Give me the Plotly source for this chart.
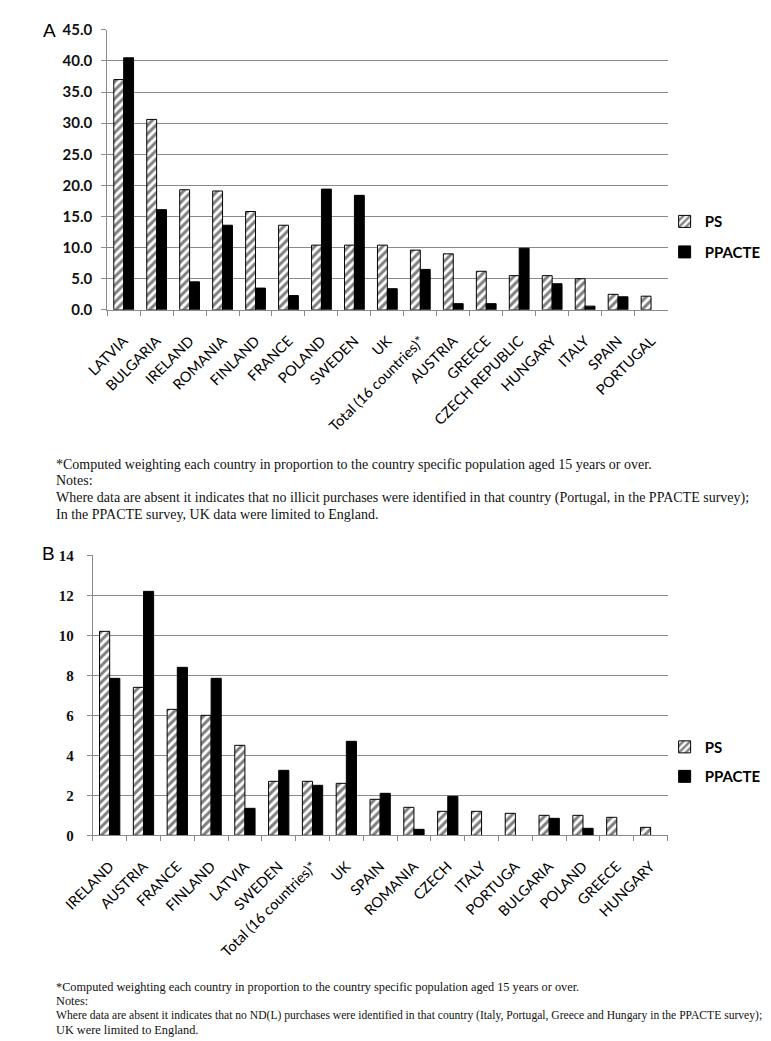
import plotly.graph_objects as go

W, H = 771, 1041

# ---------------- Panel A data ----------------
cats_a = ["LATVIA", "BULGARIA", "IRELAND", "ROMANIA", "FINLAND", "FRANCE", "POLAND",
          "SWEDEN", "UK", "Total (16 countries)*", "AUSTRIA", "GREECE", "CZECH REPUBLIC",
          "HUNGARY", "ITALY", "SPAIN", "PORTUGAL"]
ps_a = [37.0, 30.6, 19.3, 19.1, 15.8, 13.6, 10.4, 10.4, 10.4, 9.6, 9.0, 6.2, 5.5, 5.5, 5.0, 2.5, 2.2]
ppacte_a = [40.5, 16.1, 4.5, 13.6, 3.5, 2.3, 19.4, 18.4, 3.4, 6.5, 1.0, 1.0, 9.9, 4.2, 0.6, 2.1, None]
yticks_a = [0, 5, 10, 15, 20, 25, 30, 35, 40, 45]

# ---------------- Panel B data ----------------
cats_b = ["IRELAND", "AUSTRIA", "FRANCE", "FINLAND", "LATVIA", "SWEDEN", "Total (16 countries)*",
          "UK", "SPAIN", "ROMANIA", "CZECH", "ITALY", "PORTUGA", "BULGARIA", "POLAND", "GREECE", "HUNGARY"]
ps_b = [10.2, 7.4, 6.3, 6.0, 4.5, 2.7, 2.7, 2.6, 1.8, 1.4, 1.2, 1.2, 1.1, 1.0, 1.0, 0.9, 0.4]
ppacte_b = [7.85, 12.2, 8.4, 7.85, 1.35, 3.25, 2.5, 4.7, 2.1, 0.3, 1.95, None, None, 0.85, 0.35, None, None]
yticks_b = [0, 2, 4, 6, 8, 10, 12, 14]

notes_a = [
    "*Computed weighting each country in proportion to the country specific population aged 15 years or over.",
    "Notes:",
    "Where data are absent it indicates that no illicit purchases were identified in that country (Portugal, in the PPACTE survey);",
    "In the PPACTE survey, UK data were limited to England.",
]
notes_b = [
    "*Computed weighting each country in proportion to the country specific population aged 15 years or over.",
    "Notes:",
    "Where data are absent it indicates that no ND(L) purchases were identified in that country (Italy, Portugal, Greece and Hungary in the PPACTE survey);",
    "UK were limited to England.",
]

GRID = "#8a8a8a"
hatch = dict(shape="/", fgcolor="black", bgcolor="white", size=6, solidity=0.5)


def px_x(p):
    return p / W


def px_y(p):
    return 1 - p / H


fig = go.Figure()
fig.add_trace(go.Bar(x=cats_a, y=ps_a, name="PS", xaxis="x", yaxis="y", legend="legend",
                     marker=dict(color="white", pattern=hatch, line=dict(color="black", width=1)),
                     legendgroup="a1"))
fig.add_trace(go.Bar(x=cats_a, y=ppacte_a, name="PPACTE", xaxis="x", yaxis="y", legend="legend",
                     marker=dict(color="black", line=dict(color="black", width=1)), legendgroup="a2"))
fig.add_trace(go.Bar(x=cats_b, y=ps_b, name="PS", xaxis="x2", yaxis="y2", legend="legend2",
                     marker=dict(color="white", pattern=hatch, line=dict(color="black", width=1)),
                     legendgroup="b1"))
fig.add_trace(go.Bar(x=cats_b, y=ppacte_b, name="PPACTE", xaxis="x2", yaxis="y2", legend="legend2",
                     marker=dict(color="black", line=dict(color="black", width=1)), legendgroup="b2"))

xcommon = dict(showline=True, linecolor=GRID, linewidth=1, ticks="outside", tickson="boundaries",
               ticklen=5, tickcolor=GRID, tickangle=-45, showgrid=False,
               tickfont=dict(family="Lato", size=14.5, color="black"), ticklabelstandoff=16)
ycommon = dict(showline=True, linecolor=GRID, linewidth=1, ticks="outside", ticklen=5, tickcolor=GRID,
               showgrid=True, gridcolor=GRID, gridwidth=1, zeroline=False)

fig.update_layout(
    width=W, height=H,
    margin=dict(l=0, r=0, t=0, b=0),
    paper_bgcolor="white", plot_bgcolor="white",
    barmode="group", bargap=0.4, bargroupgap=0,
    xaxis=dict(domain=[px_x(72), px_x(655)], anchor="y", **xcommon),
    yaxis=dict(domain=[px_y(297), px_y(12)], anchor="x", range=[0, 45], tickvals=yticks_a,
               ticktext=[f"{v:.1f}" for v in yticks_a], ticklabelstandoff=6,
               tickfont=dict(family="Lato", size=15, color="#111", weight="bold"), **ycommon),
    xaxis2=dict(domain=[px_x(57), px_x(655)], anchor="y2", **xcommon),
    yaxis2=dict(domain=[px_y(831.7), px_y(546.8)], anchor="x2", range=[0, 14], tickvals=yticks_b,
                ticklabelstandoff=10,
                tickfont=dict(family="Liberation Serif", size=15, color="#111", weight="bold"), **ycommon),
    legend=dict(x=px_x(652), xanchor="left", y=px_y(222.5), yanchor="middle",
                font=dict(family="Lato", size=15, color="black", weight="bold"),
                tracegroupgap=8, bgcolor="rgba(0,0,0,0)"),
    legend2=dict(x=px_x(652), xanchor="left", y=px_y(756.7), yanchor="middle",
                 font=dict(family="Lato", size=15, color="black", weight="bold"),
                 tracegroupgap=7, bgcolor="rgba(0,0,0,0)"),
    showlegend=True,
)

annotations = [
    dict(text="A", x=px_x(3), y=px_y(13), xref="paper", yref="paper", xanchor="left", yanchor="middle",
         showarrow=False, font=dict(family="Liberation Sans", size=19, color="black")),
    dict(text="B", x=px_x(2), y=px_y(545), xref="paper", yref="paper", xanchor="left", yanchor="middle",
         showarrow=False, font=dict(family="Liberation Sans", size=19, color="black")),
]
ya = [454, 471, 488, 505]
for t, yy in zip(notes_a, ya):
    annotations.append(dict(text=t, x=px_x(17), y=px_y(yy), xref="paper", yref="paper",
                            xanchor="left", yanchor="middle", showarrow=False,
                            font=dict(family="Liberation Serif", size=14.0, color="#111")))
yb = [986, 1000, 1015, 1030]
sizes_b = [12.3, 12.3, 11.6, 12.3]
for t, yy, s in zip(notes_b, yb, sizes_b):
    annotations.append(dict(text=t, x=px_x(17), y=px_y(yy), xref="paper", yref="paper",
                            xanchor="left", yanchor="middle", showarrow=False,
                            font=dict(family="Liberation Serif", size=s, color="#111")))
fig.update_layout(annotations=annotations)

fig.write_html("out.html")
